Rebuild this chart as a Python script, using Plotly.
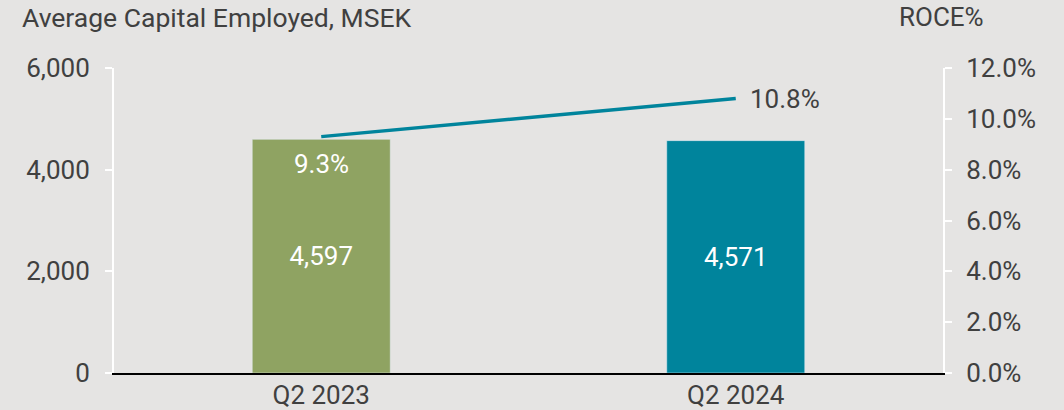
import plotly.graph_objects as go

categories = ["Q2 2023", "Q2 2024"]
capital_employed = [4597, 4571]
roce = [9.3, 10.8]
bar_colors = ["#8fa362", "#00849c"]
left_ticks = [0, 2000, 4000, 6000]
right_ticks = [0, 2, 4, 6, 8, 10, 12]

BG = "#e5e4e3"
TXT = "#404040"
FONT = "Roboto"
FS = 26

fig = go.Figure()
fig.add_trace(go.Bar(
    x=categories, y=capital_employed, marker_color=bar_colors, width=0.333,
    text=[f"{v:,}" for v in capital_employed], textposition="inside",
    insidetextanchor="middle", textfont=dict(color="white", size=FS, family=FONT),
    hoverinfo="skip", showlegend=False,
))
fig.add_trace(go.Scatter(
    x=categories, y=roce, yaxis="y2", mode="lines",
    line=dict(color="#00849c", width=3.5), showlegend=False, hoverinfo="skip",
))

# ROCE labels
fig.add_annotation(x=categories[0], y=roce[0], yref="y2", text=f"{roce[0]:.1f}%",
                   showarrow=False, yshift=-27, font=dict(color="white", size=FS, family=FONT))
fig.add_annotation(x=categories[1], y=roce[1], yref="y2", text=f"{roce[1]:.1f}%",
                   showarrow=False, xanchor="left", xshift=12, font=dict(color=TXT, size=FS, family=FONT))

# axis titles
fig.add_annotation(xref="paper", yref="paper", x=-0.113, y=1.166, xanchor="left", yanchor="middle",
                   text="Average Capital Employed, MSEK", showarrow=False,
                   font=dict(color=TXT, size=26.5, family=FONT))
fig.add_annotation(xref="paper", yref="paper", x=0.998, y=1.166, xanchor="center", yanchor="middle",
                   text="ROCE%", showarrow=False, font=dict(color=TXT, size=FS, family=FONT))

fig.update_layout(
    width=1064, height=410,
    margin=dict(l=114, r=121, t=68, b=37, autoexpand=False),
    paper_bgcolor=BG, plot_bgcolor=BG,
    font=dict(family=FONT, color=TXT, size=FS),
    xaxis=dict(range=[-0.5, 1.5], showline=True, linecolor="black", linewidth=2,
               ticks="", showgrid=False, ticklabelstandoff=-2, automargin=False,
               tickfont=dict(size=FS, color=TXT)),
    yaxis=dict(range=[0, 6000], tickvals=left_ticks, tickformat=",", showline=True,
               linecolor="white", linewidth=2, ticks="outside", tickcolor="white",
               ticklen=7, tickwidth=2, showgrid=False, zeroline=False, automargin=False,
               ticklabelstandoff=10, tickfont=dict(size=FS, color=TXT)),
    yaxis2=dict(range=[0, 12], tickvals=right_ticks, overlaying="y", side="right",
                ticktext=[f"{v:.1f}%" for v in right_ticks], automargin=False,
                showline=True, linecolor="white", linewidth=2, ticks="outside",
                tickcolor="white", ticklen=7, tickwidth=2, showgrid=False, zeroline=False,
                ticklabelstandoff=9, tickfont=dict(size=FS, color=TXT)),
)
fig.write_html("out.html", config={"displayModeBar": False},
               post_script="document.body.style.margin='0';document.body.style.background='" + BG + "';")
